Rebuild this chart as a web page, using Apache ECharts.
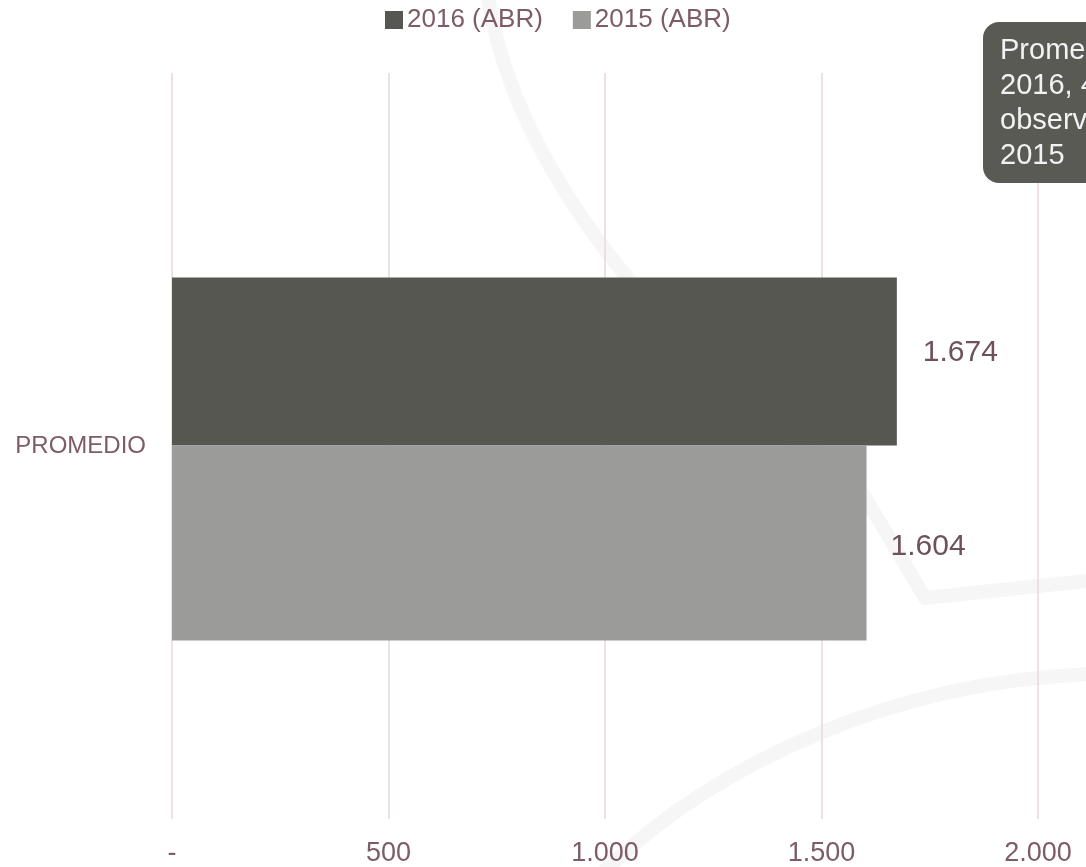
<!DOCTYPE html>
<html>
<head>
<meta charset="utf-8">
<script src="https://cdn.jsdelivr.net/npm/echarts@6/dist/echarts.min.js"></script>
<style>
html,body{margin:0;padding:0;background:#fff;}
#chart{width:1086px;height:867px;}
</style>
</head>
<body>
<div id="chart"></div>
<script>
const categories = ['PROMEDIO'];
const seriesNames = ['2016 (ABR)', '2015 (ABR)'];
const values2016 = [1674];
const values2015 = [1604];
const xTicks = [0, 500, 1000, 1500, 2000];
const calloutLines = ['Promedio abril', '2016, 4,4% mayor al', 'observado en abril', '2015'];

const FONT = 'Liberation Sans';
const TXT = '#7d5c65';

function fmt(v) {
  if (v === 0) return '-';
  return String(v).replace(/\B(?=(\d{3})+(?!\d))/g, '.');
}

const chart = echarts.init(document.getElementById('chart'), null, {renderer: 'canvas'});

const option = {
  backgroundColor: '#ffffff',
  animation: false,
  textStyle: {fontFamily: FONT},
  legend: {
    data: seriesNames,
    top: 7,
    left: 385,
    padding: 0,
    icon: 'rect',
    itemWidth: 18,
    itemHeight: 18,
    itemGap: 30,
    textStyle: {fontSize: 26, color: TXT, fontFamily: FONT, padding: [0, 0, 0, -1]}
  },
  grid: {left: 172, right: 48, top: 73, bottom: 45, containLabel: false},
  xAxis: {
    type: 'value',
    min: xTicks[0],
    max: xTicks[xTicks.length - 1],
    interval: xTicks[1] - xTicks[0],
    axisLine: {show: false},
    axisTick: {show: false},
    splitLine: {show: true, lineStyle: {color: '#e6d9dd', width: 1.5}},
    axisLabel: {fontSize: 27, color: TXT, margin: 21, formatter: fmt, fontFamily: FONT}
  },
  yAxis: {
    type: 'category',
    data: categories,
    axisLine: {show: false},
    axisTick: {show: false},
    axisLabel: {fontSize: 24, color: TXT, margin: 26, fontFamily: FONT}
  },
  series: [
    {
      name: 'spacer', type: 'bar', data: categories.map(() => 0),
      barWidth: 26, barGap: '0%', silent: true,
      itemStyle: {color: 'rgba(0,0,0,0)'}, label: {show: false}
    },
    {
      name: seriesNames[0], type: 'bar', data: values2016,
      barWidth: 168, barGap: '0%',
      itemStyle: {color: '#575752'},
      label: {show: true, position: 'right', distance: 26, offset: [0, -9],
        fontSize: 30, color: '#6f5259', fontFamily: FONT, formatter: p => fmt(p.value)}
    },
    {
      name: seriesNames[1], type: 'bar', data: values2015,
      barWidth: 195, barGap: '0%',
      itemStyle: {color: '#9b9b9a'},
      label: {show: true, position: 'right', distance: 24, offset: [0, 4],
        fontSize: 30, color: '#6f5259', fontFamily: FONT, formatter: p => fmt(p.value)}
    }
  ],
  graphic: [
    {type: 'bezierCurve', z: -1, silent: true,
      shape: {x1: 487, y1: -10, cpx1: 515, cpy1: 190, cpx2: 700, cpy2: 380, x2: 862, y2: 492},
      style: {stroke: '#f6f6f6', lineWidth: 14, fill: null}},
    {type: 'polyline', z: -1, silent: true,
      shape: {points: [[862, 492], [925, 598], [1095, 580]]},
      style: {stroke: '#f6f6f6', lineWidth: 14, fill: null, lineJoin: 'round'}},
    {type: 'bezierCurve', z: -1, silent: true,
      shape: {x1: 595, y1: 880, cpx1: 715, cpy1: 760, cpx2: 900, cpy2: 680, x2: 1095, y2: 674},
      style: {stroke: '#f6f6f6', lineWidth: 14, fill: null}},
    {type: 'rect', z: 100, silent: true,
      shape: {x: 983, y: 22, width: 260, height: 161, r: 16},
      style: {fill: '#5a5a55'}},
    {type: 'text', z: 101, silent: true, left: 1000, top: 33,
      style: {text: calloutLines.join('\n'), fill: '#f2f2f2', font: '29px "Liberation Sans"', lineHeight: 35}}
  ]
};
chart.setOption(option);
</script>
</body>
</html>
